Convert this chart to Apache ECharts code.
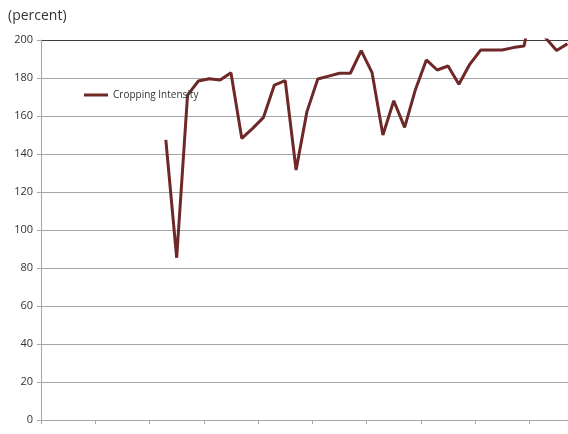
<!DOCTYPE html>
<html>
<head>
<meta charset="utf-8">
<script src="https://cdn.jsdelivr.net/npm/echarts@6/dist/echarts.min.js"></script>
<style>
  html, body { margin: 0; padding: 0; background: #fff; }
  #chart { width: 568px; height: 434px; }
</style>
</head>
<body>
<div id="chart"></div>
<script>
// years on the category axis (the plot runs past the right edge of the picture)
const years = [];
for (let y = 1950; y <= 2004; y++) years.push(String(y));

// cropping intensity, 1961 onwards (years before have no value)
const intensity = [
  147.4, 85.4, 171, 178.4, 179.6, 178.9, 182.8, 148.2, 153.5, 159.3,
  176.3, 178.6, 131.6, 162.3, 179.5, 181, 182.5, 182.5, 194.4, 182.8,
  150, 168, 154, 174, 189.5, 184.2, 186.3, 176.7, 187.2, 194.7,
  194.7, 194.7, 196, 196.8, 225, 201, 194.5, 198
];
const firstYear = '1961';

const seriesData = years.map(function (y) {
  const i = years.indexOf(y) - years.indexOf(firstYear);
  return (i >= 0 && i < intensity.length) ? intensity[i] : null;
});

// gridline colours, bottom to top; the 200 line is darker
const gridColors = ['#a6a6a6', '#a6a6a6', '#a6a6a6', '#a6a6a6', '#a6a6a6', '#a6a6a6',
  '#a6a6a6', '#a6a6a6', '#a6a6a6', '#a6a6a6', '#404040'];

const chart = echarts.init(document.getElementById('chart'));
chart.setOption({
  animation: false,
  textStyle: { fontFamily: 'Open Sans' },
  title: {
    text: '(percent)',
    left: 3,
    top: 4,
    textStyle: { fontSize: 14, fontWeight: 'normal', color: '#333' }
  },
  legend: {
    left: 79,
    top: 85,
    icon: 'rect',
    itemWidth: 24,
    itemHeight: 3,
    itemGap: 4,
    textStyle: { fontSize: 10, color: '#333' },
    data: ['Cropping Intensity']
  },
  grid: { left: 41, top: 40, width: 597, height: 380, outerBoundsMode: 'none', containLabel: false },
  xAxis: {
    type: 'category',
    data: years,
    boundaryGap: true,
    axisLine: { lineStyle: { color: '#a6a6a6', width: 1 } },
    axisTick: { show: true, interval: 4, length: 4, lineStyle: { color: '#a6a6a6' } },
    axisLabel: { show: false, interval: 4 },
    splitLine: { show: false }
  },
  yAxis: {
    type: 'value',
    min: 0,
    max: 200,
    interval: 20,
    axisLine: { show: true, lineStyle: { color: '#a6a6a6', width: 1 } },
    axisTick: { show: true, length: 4, lineStyle: { color: '#a6a6a6' } },
    axisLabel: { fontSize: 11, color: '#333', margin: 8 },
    splitLine: { lineStyle: { color: gridColors, width: 1 } }
  },
  series: [{
    name: 'Cropping Intensity',
    type: 'line',
    data: seriesData,
    showSymbol: false,
    symbol: 'none',
    connectNulls: false,
    clip: true,
    color: '#6e2828',
    lineStyle: { color: '#6e2828', width: 3 }
  }]
});
</script>
</body>
</html>
